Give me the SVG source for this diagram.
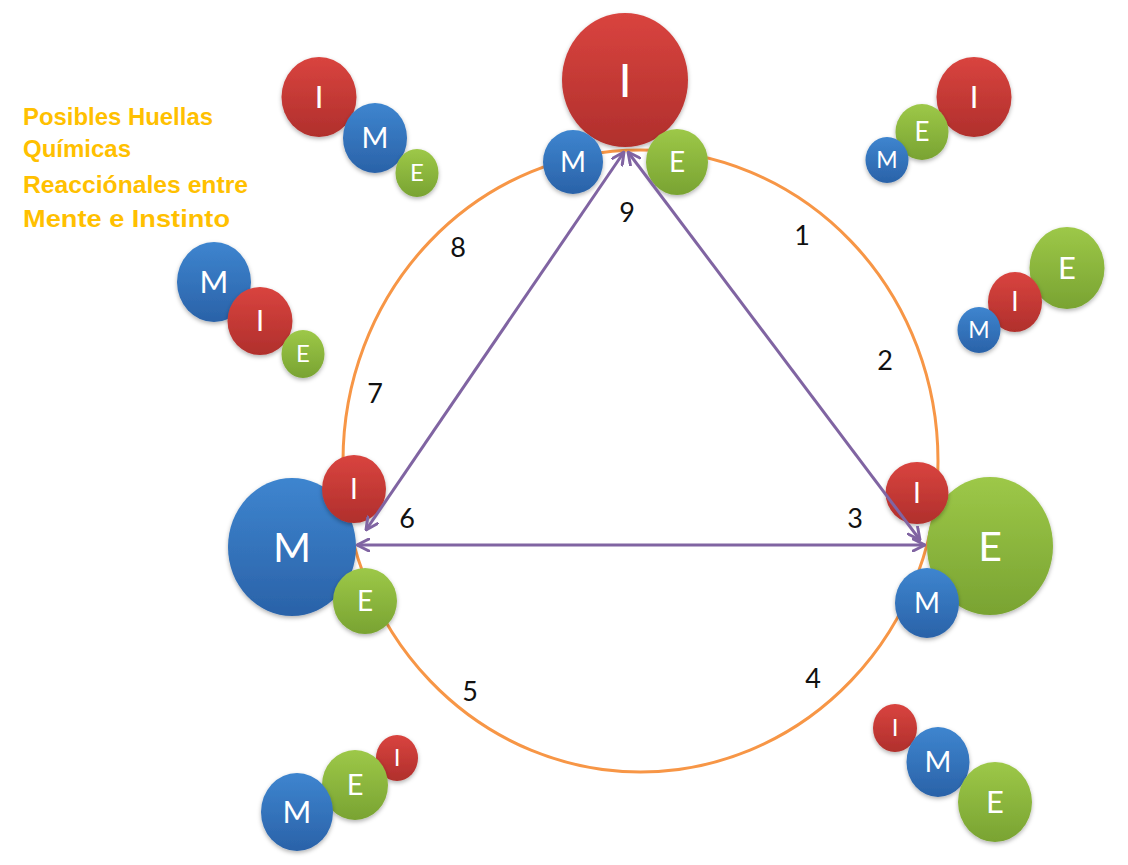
<svg xmlns="http://www.w3.org/2000/svg" width="1128" height="865" viewBox="0 0 1128 865">
<defs>
<linearGradient id="gr" x1="0" y1="0" x2="0" y2="1"><stop offset="0" stop-color="#D9443F"/><stop offset="1" stop-color="#B02F2C"/></linearGradient>
<linearGradient id="gb" x1="0" y1="0" x2="0" y2="1"><stop offset="0" stop-color="#3E85CF"/><stop offset="1" stop-color="#2A62A8"/></linearGradient>
<linearGradient id="gg" x1="0" y1="0" x2="0" y2="1"><stop offset="0" stop-color="#9DC848"/><stop offset="1" stop-color="#79A332"/></linearGradient>
<filter id="sh" x="-20%" y="-20%" width="140%" height="150%"><feDropShadow dx="0" dy="2" stdDeviation="2" flood-color="#000" flood-opacity="0.3"/></filter>
<marker id="ah" viewBox="0 0 14 14" refX="13" refY="7" markerWidth="14" markerHeight="14" markerUnits="userSpaceOnUse" orient="auto-start-reverse">
<path d="M1,1 L13,7 L1,13" fill="none" stroke="#8064A2" stroke-width="3" stroke-linecap="round" stroke-linejoin="round"/>
</marker>
</defs>
<style>
.r{fill:url(#gr);filter:url(#sh)}
.b{fill:url(#gb);filter:url(#sh)}
.g{fill:url(#gg);filter:url(#sh)}
.t{font-family:Lato,"Liberation Sans",sans-serif;fill:#fff;text-anchor:middle}
.n{font-family:Lato,"Liberation Sans",sans-serif;fill:#111;font-size:27px;text-anchor:middle}
.c{fill:none;stroke:#F79646;stroke-width:3}
.a{stroke:#8064A2;stroke-width:3;fill:none;marker-start:url(#ah);marker-end:url(#ah)}
.ti{font-family:"Comic Sans MS","Liberation Sans",sans-serif;font-weight:bold;font-size:24px;fill:#FFC000}
</style>
<rect width="1128" height="865" fill="#fff"/>
<g id="title">
<text class="ti" x="23" y="125" textLength="190" lengthAdjust="spacingAndGlyphs">Posibles Huellas</text>
<text class="ti" x="23" y="157" textLength="108" lengthAdjust="spacingAndGlyphs">Químicas</text>
<text class="ti" x="23" y="193" textLength="225" lengthAdjust="spacingAndGlyphs">Reacciónales entre</text>
<text class="ti" x="23" y="227" textLength="207" lengthAdjust="spacingAndGlyphs">Mente e Instinto</text>
</g>
<ellipse id="cycle" class="c" cx="640.5" cy="461" rx="297.5" ry="311"/>
<g id="labels">
<text class="n" x="802" y="245">1</text>
<text class="n" x="885" y="370">2</text>
<text class="n" x="855" y="528">3</text>
<text class="n" x="813" y="688">4</text>
<text class="n" x="470" y="701">5</text>
<text class="n" x="407" y="528">6</text>
<text class="n" x="375" y="403">7</text>
<text class="n" x="458" y="257">8</text>
<text class="n" x="627" y="222">9</text>
</g>
<g id="node-I-top"><ellipse class="r" cx="625" cy="80" rx="63" ry="67"/><text class="t" x="625" y="97" font-size="47">I</text></g>
<g id="node-M-top"><ellipse class="b" cx="573" cy="162" rx="30" ry="32"/><text class="t" x="573" y="172" font-size="28">M</text></g>
<g id="node-E-top"><ellipse class="g" cx="677" cy="162" rx="31" ry="33"/><text class="t" x="677" y="172" font-size="28">E</text></g>
<g id="node-M-left"><ellipse class="b" cx="292" cy="547" rx="64" ry="69"/><text class="t" x="292" y="562" font-size="41">M</text></g>
<g id="node-I-left"><ellipse class="r" cx="354" cy="489" rx="32" ry="34"/><text class="t" x="354" y="499" font-size="28">I</text></g>
<g id="node-E-left"><ellipse class="g" cx="365" cy="601" rx="32" ry="33"/><text class="t" x="365" y="611" font-size="28">E</text></g>
<g id="node-E-right"><ellipse class="g" cx="990" cy="546" rx="63" ry="69"/><text class="t" x="990" y="561" font-size="41">E</text></g>
<g id="node-I-right"><ellipse class="r" cx="917" cy="493" rx="31.5" ry="31"/><text class="t" x="917" y="503" font-size="28">I</text></g>
<g id="node-M-right"><ellipse class="b" cx="927" cy="603" rx="32" ry="35"/><text class="t" x="927" y="613" font-size="28">M</text></g>
<g id="cluster-IME-topleft">
<g id="tl-I"><ellipse class="r" cx="319" cy="97" rx="37.5" ry="40"/><text class="t" x="319" y="108" font-size="31">I</text></g>
<g id="tl-M"><ellipse class="b" cx="375" cy="138" rx="32" ry="35"/><text class="t" x="375" y="148" font-size="29">M</text></g>
<g id="tl-E"><ellipse class="g" cx="417" cy="173" rx="21.5" ry="24"/><text class="t" x="417" y="181" font-size="24">E</text></g>
</g>
<g id="cluster-MIE-left">
<g id="l-M"><ellipse class="b" cx="214" cy="282" rx="37" ry="40"/><text class="t" x="214" y="293" font-size="31">M</text></g>
<g id="l-I"><ellipse class="r" cx="260" cy="321" rx="32.5" ry="34"/><text class="t" x="260" y="331" font-size="29">I</text></g>
<g id="l-E"><ellipse class="g" cx="303" cy="354" rx="21.5" ry="24"/><text class="t" x="303" y="362" font-size="24">E</text></g>
</g>
<g id="cluster-MEI-topright">
<g id="tr-I"><ellipse class="r" cx="974" cy="97" rx="37.5" ry="40"/><text class="t" x="974" y="108" font-size="31">I</text></g>
<g id="tr-E"><ellipse class="g" cx="922" cy="132" rx="26.5" ry="28"/><text class="t" x="922" y="141" font-size="26">E</text></g>
<g id="tr-M"><ellipse class="b" cx="887" cy="160" rx="21.5" ry="23"/><text class="t" x="887" y="168" font-size="23">M</text></g>
</g>
<g id="cluster-MIE-right">
<g id="r-E"><ellipse class="g" cx="1067" cy="268" rx="37.5" ry="41"/><text class="t" x="1067" y="279" font-size="31">E</text></g>
<g id="r-I"><ellipse class="r" cx="1015" cy="302" rx="27" ry="30"/><text class="t" x="1015" y="311" font-size="26">I</text></g>
<g id="r-M"><ellipse class="b" cx="979" cy="330" rx="21.5" ry="23"/><text class="t" x="979" y="338" font-size="23">M</text></g>
</g>
<g id="cluster-IME-bottomright">
<g id="br-I"><ellipse class="r" cx="895" cy="728" rx="22" ry="24"/><text class="t" x="895" y="736" font-size="24">I</text></g>
<g id="br-M"><ellipse class="b" cx="938" cy="762" rx="31.5" ry="35"/><text class="t" x="938" y="772" font-size="29">M</text></g>
<g id="br-E"><ellipse class="g" cx="995" cy="802" rx="37" ry="40"/><text class="t" x="995" y="813" font-size="31">E</text></g>
</g>
<g id="cluster-MEI-bottomleft">
<g id="bl-I"><ellipse class="r" cx="397" cy="758" rx="21" ry="23"/><text class="t" x="397" y="766" font-size="24">I</text></g>
<g id="bl-E"><ellipse class="g" cx="355" cy="785" rx="33" ry="35"/><text class="t" x="355" y="795" font-size="29">E</text></g>
<g id="bl-M"><ellipse class="b" cx="297" cy="812" rx="36" ry="39"/><text class="t" x="297" y="823" font-size="31">M</text></g>
</g>
<g id="connectors">
<line class="a" x1="366" y1="530" x2="624" y2="152"/>
<line class="a" x1="628" y1="152" x2="920" y2="540"/>
<line class="a" x1="357" y1="545" x2="925" y2="545"/>
</g>
</svg>
